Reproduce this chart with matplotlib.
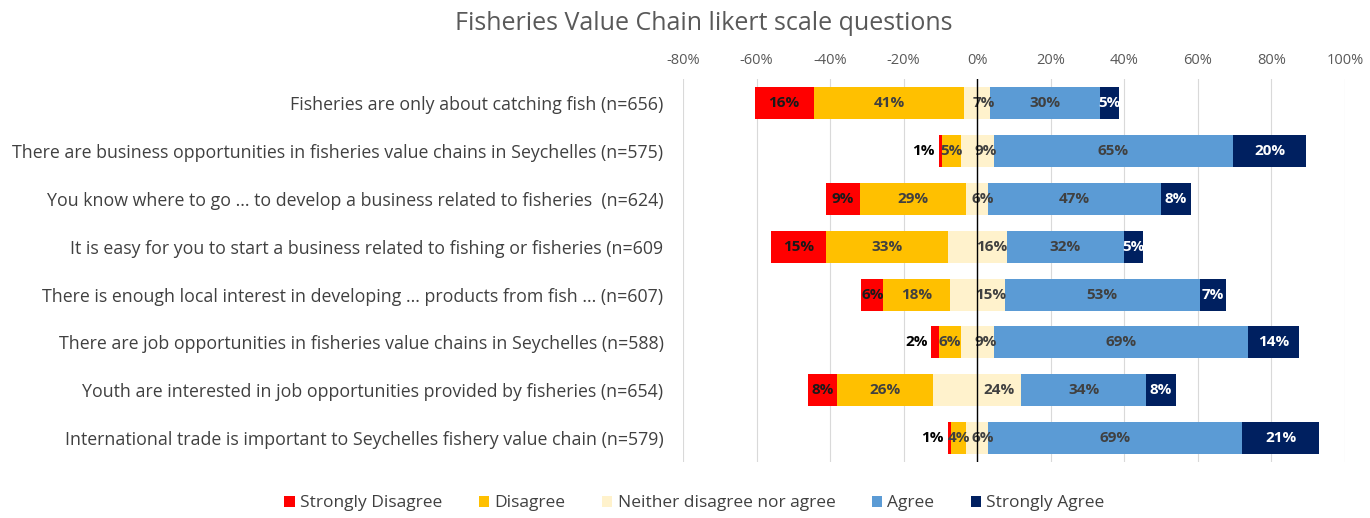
import numpy as np
import matplotlib.pyplot as plt

plt.rcParams['font.family'] = ['Open Sans', 'DejaVu Sans']

questions = [
    "Fisheries are only about catching fish (n=656)",
    "There are business opportunities in fisheries value chains in Seychelles (n=575)",
    "You know where to go ... to develop a business related to fisheries  (n=624)",
    "It is easy for you to start a business related to fishing or fisheries (n=609",
    "There is enough local interest in developing ... products from fish ... (n=607)",
    "There are job opportunities in fisheries value chains in Seychelles (n=588)",
    "Youth are interested in job opportunities provided by fisheries (n=654)",
    "International trade is important to Seychelles fishery value chain (n=579)",
]
strongly_disagree = [16, 1, 9, 15, 6, 2, 8, 1]
disagree = [41, 5, 29, 33, 18, 6, 26, 4]
neutral = [7, 9, 6, 16, 15, 9, 24, 6]
agree = [30, 65, 47, 32, 53, 69, 34, 69]
strongly_agree = [5, 20, 8, 5, 7, 14, 8, 21]

legend_names = ["Strongly Disagree", "Disagree", "Neither disagree nor agree",
                "Agree", "Strongly Agree"]
colors = ["#FF0000", "#FFC000", "#FFF2CC", "#5B9BD5", "#002060"]
text_colors = ["#1a1a1a", "#404040", "#404040", "#404040", "white"]

sd = np.array(strongly_disagree, float)
d = np.array(disagree, float)
n = np.array(neutral, float)
a = np.array(agree, float)
sa = np.array(strongly_agree, float)

fig = plt.figure(figsize=(13.7, 5.18), dpi=100)
ax = fig.add_axes([0.4985, 0.108, 0.4833, 0.739])

y = np.arange(len(questions))
h = 0.67

starts = [-(sd + d + n / 2), -(d + n / 2), -n / 2, n / 2, n / 2 + a]
widths = [sd, d, n, a, sa]

for i in range(5):
    ax.barh(y, widths[i], left=starts[i], height=h, color=colors[i],
            label=legend_names[i], zorder=2)

# etiquetas de los segmentos
for r in range(len(questions)):
    for i in range(5):
        val = widths[i][r]
        if i == 2:
            xc = n[r] / 4
        else:
            xc = starts[i][r] + val / 2
        txt = f"{int(val)}%"
        if i == 0 and val <= 2:
            ax.text(starts[0][r] - 1.0, r, txt, ha='right', va='center',
                    fontsize=11, fontweight='bold', color='black', zorder=3)
        else:
            ax.text(xc, r, txt, ha='center', va='center', fontsize=11,
                    fontweight='bold', color=text_colors[i], zorder=3)

ax.axvline(0, color='black', lw=1, zorder=3)
ax.set_xlim(-80, 100)
ax.set_ylim(len(questions) - 0.5, -0.5)
ax.set_xticks(np.arange(-80, 101, 20))
ax.set_xticklabels([f"{t}%" for t in range(-80, 101, 20)])
ax.xaxis.tick_top()
ax.tick_params(axis='x', length=0, labelsize=10.5, colors='#595959', pad=8)
ax.grid(axis='x', color='#D9D9D9', lw=0.8, zorder=0)
ax.set_yticks(y)
ax.set_yticklabels(questions)
ax.tick_params(axis='y', length=0, labelsize=12.8, colors='#404040', pad=14)
for s in ax.spines.values():
    s.set_visible(False)

fig.text(0.514, 0.955, "Fisheries Value Chain likert scale questions",
         ha='center', va='center', fontsize=18, color='#595959')

fig.legend(loc='center', bbox_to_anchor=(0.507, 0.028), ncol=5, frameon=False,
           fontsize=12.5, handlelength=0.6, handleheight=0.6, handletextpad=0.3,
           columnspacing=2.1, labelcolor='#404040')

fig.savefig("out.png", dpi=100)
